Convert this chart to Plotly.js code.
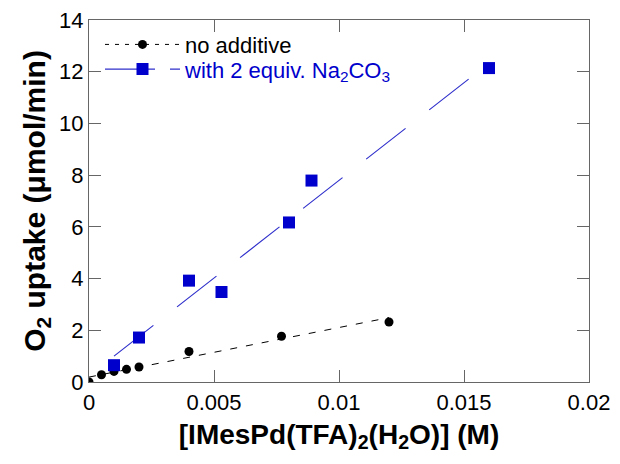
<!DOCTYPE html>
<html>
<head>
<meta charset="utf-8">
<script src="https://cdn.plot.ly/plotly-3.0.1.min.js"></script>
<style>html,body{margin:0;padding:0;background:#fff;}#chart{width:620px;height:464px;}</style>
</head>
<body>
<div id="chart"></div>
<script>
// No additive (black circles)
const concNone = [0, 0.0005, 0.001, 0.0015, 0.002, 0.004, 0.0077, 0.012];
const rateNone = [0, 0.28, 0.41, 0.49, 0.58, 1.18, 1.77, 2.32];
// With 2 equiv. Na2CO3 (blue squares)
const concNa = [0.001, 0.002, 0.004, 0.0053, 0.008, 0.0089, 0.016];
const rateNa = [0.65, 1.72, 3.92, 3.48, 6.17, 7.79, 12.14];
// Linear fit lines (endpoints)
const fitNoneX = [0, 0.012];
const fitNoneY = [0.19, 2.49];
const fitNaX = [0.001, 0.016];
const fitNaY = [1.0, 12.33];

const blue = '#0000cc';
const blueLine = '#3030cc';
const axisColor = '#666666';
const fontFam = 'Liberation Sans, Arial, sans-serif';

const traces = [
  {x: fitNoneX, y: fitNoneY, mode: 'lines', showlegend: false,
   line: {color: '#000', width: 1, dash: '7px,9px'}, hoverinfo: 'skip'},
  {x: fitNaX, y: fitNaY, mode: 'lines', showlegend: false,
   line: {color: blueLine, width: 1.2, dash: '50px,30px'}, hoverinfo: 'skip'},
  {x: concNone, y: rateNone, mode: 'markers', showlegend: false,
   marker: {color: '#000', size: 9, symbol: 'circle'}},
  {x: concNa, y: rateNa, mode: 'markers', showlegend: false,
   marker: {color: blue, size: 12, symbol: 'square'}},
  // legend proxies
  {x: [null], y: [null], mode: 'lines+markers', name: 'no additive', legend: 'legend',
   line: {color: '#000', width: 1, dash: '4px,6px'}, marker: {color: '#000', size: 9}},
  {x: [null], y: [null], mode: 'lines+markers', legend: 'legend2',
   name: '<span style="color:#0000cc">with 2 equiv. Na<sub>2</sub>CO<sub>3</sub></span>',
   line: {color: blueLine, width: 1.2, dash: '50px,15px'}, marker: {color: blue, size: 12, symbol: 'square'}}
];

const legendBase = {xanchor: 'left', yanchor: 'top', bgcolor: 'rgba(0,0,0,0)',
  font: {size: 22, family: fontFam}, itemwidth: 75};

const layout = {
  width: 620, height: 464,
  margin: {l: 89, r: 31, t: 20, b: 82},
  paper_bgcolor: '#fff', plot_bgcolor: '#fff',
  font: {family: fontFam, color: '#000', size: 22},
  showlegend: true,
  legend: Object.assign({x: 0.022, y: 0.99}, legendBase),
  legend2: Object.assign({x: 0.022, y: 0.922}, legendBase),
  xaxis: {
    range: [0, 0.02], tick0: 0, dtick: 0.005, ticks: 'inside', ticklen: 12,
    tickcolor: axisColor, tickwidth: 1, showline: true, linecolor: axisColor, linewidth: 1.2,
    mirror: 'ticks', showgrid: false, zeroline: false,
    tickfont: {size: 22, family: fontFam},
    title: {text: '<b>[IMesPd(TFA)<sub>2</sub>(H<sub>2</sub>O)] (M)</b>', font: {size: 28, family: fontFam}, standoff: 10}
  },
  yaxis: {
    range: [0, 14], tick0: 0, dtick: 2, ticks: 'inside', ticklen: 12,
    tickcolor: axisColor, tickwidth: 1, showline: true, linecolor: axisColor, linewidth: 1.2,
    mirror: 'ticks', showgrid: false, zeroline: false,
    tickfont: {size: 22, family: fontFam},
    title: {text: '<b>O<sub>2</sub> uptake (μmol/min)</b>', font: {size: 30, family: fontFam}, standoff: 4}
  }
};

Plotly.newPlot('chart', traces, layout, {displayModeBar: false, staticPlot: true});
</script>
</body>
</html>
